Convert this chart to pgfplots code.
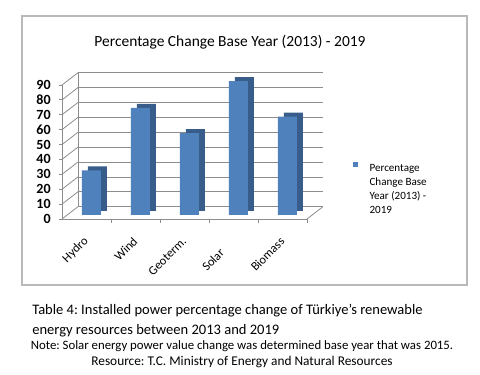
\documentclass[border=0pt]{standalone}
\usepackage{pgfplots}
\pgfplotsset{compat=1.18}
\usepackage{fontspec}
\setmainfont{Carlito}
\definecolor{barfront}{HTML}{4F81BD}
\definecolor{barside}{HTML}{385D8A}
\definecolor{gridc}{HTML}{8C8C8C}
\begin{document}
\frenchspacing
\begin{tikzpicture}
\path[use as bounding box] (0,0) rectangle (360pt,281.25pt);
\draw[gray!55, line width=0.8pt] (16.5pt,67.5pt) rectangle (350.25pt,269.25pt);
\node[font=\fontsize{11.6}{14}\selectfont] at (172.5pt,249.75pt) {Percentage Change Base Year (2013) - 2019};
% back wall
\begin{axis}[at={(58.5pt,126.2pt)}, anchor=south west, scale only axis,
  width=183.75pt, height=100.5pt, xmin=-0.5, xmax=4.5, ymin=0, ymax=90,
  ytick={0,10,...,90}, yticklabels={}, xtick=\empty, ymajorgrids,
  major grid style={gridc, line width=0.6pt}, major tick length=0pt,
  axis lines*=left, axis line style={gridc, line width=0.6pt}]
\addplot[draw=none] coordinates {(0,0)};
\end{axis}
% main axis
\begin{axis}[at={(46.5pt,117pt)}, anchor=south west, scale only axis,
  width=183.75pt, height=100.5pt, xmin=-0.5, xmax=4.5, ymin=0, ymax=90,
  axis lines*=left, axis line style={gridc, line width=0.6pt}, clip=false,
  ytick={0,10,...,90}, xtick={0,1,2,3,4},
  xticklabels={Hydro,Wind,Geoterm.,Solar\hspace*{12pt},Biomass},
  minor xtick={0.5,1.5,2.5,3.5,4.5},
  tick align=outside, major tick length=2.5pt, minor tick length=3pt,
  tick style={gridc, line width=0.6pt},
  every major x tick/.append style={draw=none},
  /pgf/number format/assume math mode=true,
  yticklabel style={font=\fontsize{10.5}{12}\selectfont\bfseries, xshift=-2.5pt},
  xticklabel style={font=\fontsize{9.3}{11}\selectfont, rotate=45, anchor=east, yshift=-9pt, xshift=-5.7pt},
  legend style={at={(1.17,0.448)}, anchor=north west, draw=none, fill=none,
    font=\fontsize{8.3}{10.5}\selectfont, cells={align=left}},
  legend cell align=left,
  legend image code/.code={\path (0pt,-15pt) (10.5pt,0pt); \fill[barfront] (0pt,14.2pt) rectangle (3.8pt,18pt);}]
\pgfplotsinvokeforeach{0,10,20,30,40,50,60,70,80,90}{\draw[gridc, line width=0.6pt] (axis cs:-0.5,#1) -- ++(12pt,9.25pt);}
\draw[gridc, line width=0.6pt] (axis cs:4.5,0) -- ++(12pt,9.25pt);
\addplot[ybar, bar width=14.25pt, bar shift=8.25pt, yshift=6pt, fill=barside, draw=none, forget plot]
  coordinates {(0,30) (1,72) (2,55) (3,90) (4,66)};
\addplot[ybar, bar width=14.25pt, bar shift=3.75pt, yshift=3pt, fill=barfront, draw=none]
  coordinates {(0,30) (1,72) (2,55) (3,90) (4,66)};
\addlegendentry{Percentage\\Change Base\\Year (2013) -\\2019}
\end{axis}
\node[anchor=west, font=\fontsize{10.9}{13}\selectfont] at (20.7pt,48pt) {Table 4: Installed power percentage change of Türkiye's renewable};
\node[anchor=west, font=\fontsize{10.9}{13}\selectfont] at (20.7pt,33pt) {energy resources between 2013 and 2019};
\node[font=\fontsize{9.6}{11}\selectfont] at (181.5pt,21.75pt) {Note: Solar energy power value change was determined base year that was 2015.};
\node[font=\fontsize{10}{11}\selectfont] at (181.5pt,9.75pt) {Resource: T.C. Ministry of Energy and Natural Resources};
\end{tikzpicture}
\end{document}
